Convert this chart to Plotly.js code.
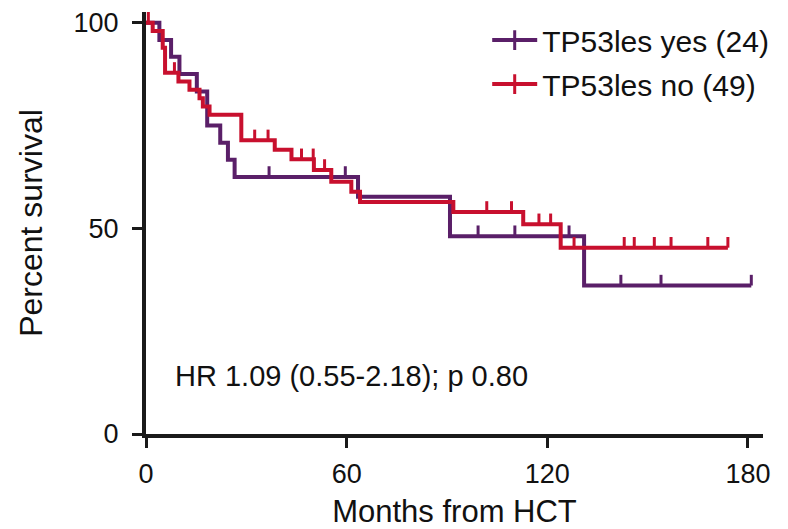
<!DOCTYPE html>
<html>
<head>
<meta charset="utf-8">
<script src="https://cdn.plot.ly/plotly-3.0.1.min.js"></script>
<style>
html,body{margin:0;padding:0;background:#fff;}
#chart{width:788px;height:529px;}
</style>
</head>
<body>
<div id="chart"></div>
<script>
// ---- Data ----
const seriesNames = ["TP53les yes (24)", "TP53les no (49)"];

// TP53les yes: step times (months) and survival (%) after each step
const monthsYes = [0, 4.0, 7.5, 10.0, 15.2, 18.3, 22.2, 24.5, 26.5, 63.4, 90.9, 131.0, 181.0];
const survYes   = [100, 95.8, 91.7, 87.5, 83.3, 75.0, 70.8, 66.7, 62.5, 57.7, 48.1, 36.1, 36.1];
const censorYes = [36.8, 59.6, 99.3, 110.3, 126.5, 142.0, 154.0, 181.0];

// TP53les no
const monthsNo = [0, 2.0, 5.0, 5.7, 9.7, 13.0, 16.0, 17.0, 19.0, 28.5, 38.5, 43.5, 50.2, 55.4, 61.4, 64.0, 91.9, 112.8, 124.0, 174.0];
const survNo   = [100, 98.0, 93.9, 87.8, 85.7, 83.7, 81.6, 79.6, 77.6, 71.4, 69.1, 66.8, 64.2, 61.3, 58.9, 56.4, 54.0, 51.0, 45.3, 45.3];
const censorNo = [0.7, 8.5, 32.5, 36.5, 46.5, 50.0, 53.4, 101.9, 109.3, 117.5, 121.0, 128.0, 143.0, 146.0, 152.0, 157.0, 168.0, 174.0];

const xTickVals = [0, 60, 120, 180];
const yTickVals = [0, 50, 100];
const annotationText = "HR 1.09 (0.55-2.18); p 0.80";

// ---- Styles ----
const colYes = "#5a1f68";
const colNo = "#c8102e";
const axisCol = "#1a1a1a";
const tickH = 2.6; // censor tick height in % units

function survAt(times, surv, t) {
  let s = surv[0];
  for (let i = 0; i < times.length; i++) { if (times[i] <= t) s = surv[i]; }
  return s;
}
function censorSegs(times, surv, cens) {
  const x = [], y = [];
  cens.forEach(t => {
    const s = survAt(times, surv, t);
    x.push(t, t, null); y.push(s, s + tickH, null);
  });
  return {x, y};
}

const cy = censorSegs(monthsYes, survYes, censorYes);
const cn = censorSegs(monthsNo, survNo, censorNo);

const traces = [
  {x: monthsYes, y: survYes, mode: "lines", line: {shape: "hv", color: colYes, width: 4}, showlegend: false, hoverinfo: "skip"},
  {x: cy.x, y: cy.y, mode: "lines", line: {color: colYes, width: 3}, showlegend: false, hoverinfo: "skip"},
  {x: monthsNo, y: survNo, mode: "lines", line: {shape: "hv", color: colNo, width: 4}, showlegend: false, hoverinfo: "skip"},
  {x: cn.x, y: cn.y, mode: "lines", line: {color: colNo, width: 3}, showlegend: false, hoverinfo: "skip"},
  {x: [null], y: [null], name: seriesNames[0], mode: "lines+markers", legendgroup: "a",
   line: {color: colYes, width: 4}, marker: {symbol: "line-ns", size: 14, line: {color: colYes, width: 3}}},
  {x: [null], y: [null], name: seriesNames[1], mode: "lines+markers", legendgroup: "b",
   line: {color: colNo, width: 4}, marker: {symbol: "line-ns", size: 14, line: {color: colNo, width: 3}}}
];

const font = "'Liberation Sans', Arial, Helvetica, sans-serif";

const layout = {
  width: 788, height: 529,
  margin: {l: 146, r: 25, t: 12, b: 95},
  paper_bgcolor: "#fff", plot_bgcolor: "#fff",
  showlegend: true,
  legend: {x: 0.553, y: 0.995, xanchor: "left", yanchor: "top", bgcolor: "rgba(0,0,0,0)",
           font: {family: font, size: 30, color: "#111"}, itemwidth: 45, tracegroupgap: 2},
  xaxis: {range: [0, 184.5], tickvals: xTickVals, ticktext: xTickVals.map(String),
          showline: true, linewidth: 4, linecolor: axisCol, ticks: "outside", ticklen: 10, tickwidth: 3, tickcolor: axisCol,
          showgrid: false, zeroline: false, ticklabelstandoff: 3,
          tickfont: {family: font, size: 27, color: "#111"},
          title: {text: "Months from HCT", font: {family: font, size: 31, color: "#111"}, standoff: 13}},
  yaxis: {range: [0, 102.6], tickvals: yTickVals, ticktext: yTickVals.map(String),
          showline: true, linewidth: 4, linecolor: axisCol, ticks: "outside", ticklen: 10, tickwidth: 3, tickcolor: axisCol,
          showgrid: false, zeroline: false, ticklabelstandoff: 8,
          tickfont: {family: font, size: 27, color: "#111"},
          title: {text: "Percent survival", font: {family: font, size: 32, color: "#111"}, standoff: 22}},
  annotations: [{x: 8, y: 14, xref: "x", yref: "y", xanchor: "left", yanchor: "middle", showarrow: false,
                 text: annotationText, font: {family: font, size: 29, color: "#111"}}]
};

Plotly.newPlot("chart", traces, layout, {staticPlot: true, displayModeBar: false});
</script>
</body>
</html>
